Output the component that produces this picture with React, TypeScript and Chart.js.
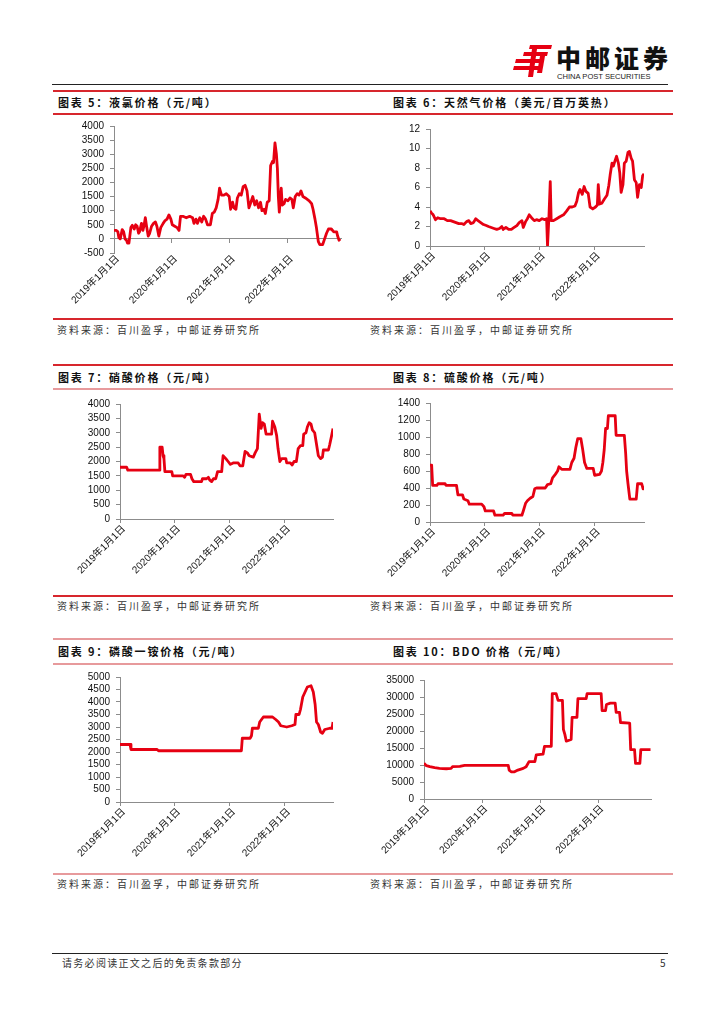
import React, { useEffect, useRef } from 'react';
import { Chart, registerables } from 'chart.js';

Chart.register(...registerables);

const RED = '#E60012';
const AXIS = '#8c8c8c';
const TICK_FONT = { family: "'Liberation Sans', 'Noto Sans CJK SC', sans-serif", size: 10 };

// x positions are months since 2019-01-01
const yearTicks = [0, 12, 24, 36];
const yearLabels = ['2019年1月1日', '2020年1月1日', '2021年1月1日', '2022年1月1日'];

// 图表5 液氯价格
const chlorMonths = [0, 0.5, 0.8, 1.0, 1.3, 1.7, 2.0, 2.3, 2.6, 2.8, 3.1, 3.5, 3.8, 4.2, 4.5, 4.8, 5.1, 5.3, 5.7, 6.0, 6.2, 6.5, 6.8, 7.1, 7.4, 7.8, 8.2, 8.6, 8.9, 9.3, 9.7, 10.2, 10.6, 11.0, 11.4, 11.8, 12.1, 12.6, 13.1, 13.5, 13.8, 14.3, 15.0, 15.7, 16.3, 16.6, 17.0, 17.3, 17.8, 18.2, 18.6, 19.0, 19.4, 20.0, 20.4, 20.8, 21.2, 21.6, 21.9, 22.3, 22.8, 23.3, 23.9, 24.2, 24.6, 24.9, 25.3, 25.6, 26.0, 26.4, 26.8, 27.2, 27.6, 28.0, 28.4, 28.8, 29.2, 29.6, 30.0, 30.4, 30.7, 31.1, 31.4, 31.8, 32.2, 32.5, 32.9, 33.1, 33.4, 33.7, 33.9, 34.1, 34.3, 34.7, 34.9, 35.3, 35.6, 36.1, 36.5, 36.9, 37.2, 37.6, 38.0, 38.4, 38.8, 39.2, 39.7, 40.1, 40.5, 41.0, 41.3, 41.7, 42.0, 42.4, 42.7, 43.3, 43.7, 44.1, 44.5, 45.1, 45.6, 46.2, 46.4, 46.7, 46.9];
const chlorPrices = [300, 300, 250, 50, 0, 330, 250, 0, -50, -150, -150, 400, 480, 350, 500, 450, 200, 250, 550, 300, 450, 750, 400, 100, 200, 450, 550, 600, 450, 100, 400, 550, 650, 700, 850, 700, 500, 450, 400, 300, 800, 800, 750, 800, 750, 550, 700, 550, 750, 600, 800, 700, 500, 500, 900, 950, 1100, 1400, 1800, 1550, 1550, 1600, 1500, 1050, 1300, 1100, 1050, 1450, 1600, 1550, 1850, 1900, 1700, 1100, 1300, 1500, 1200, 1350, 1100, 1300, 1000, 1050, 900, 1300, 1350, 2600, 2750, 2700, 3400, 3000, 2500, 1500, 950, 1800, 1200, 1250, 1400, 1350, 1450, 1400, 1100, 1500, 1600, 1550, 1700, 1500, 1450, 1400, 1350, 1250, 1050, 700, 400, -100, -200, -200, 0, 200, 350, 350, 250, 250, 100, -50, 0];

// 图表6 天然气价格
const gasMonths = [0, 0.3, 0.7, 1.2, 1.7, 2.3, 3.1, 3.8, 4.5, 5.1, 5.7, 6.3, 6.9, 7.4, 8.0, 8.5, 8.9, 9.5, 10.0, 10.5, 11.1, 11.7, 12.3, 12.8, 13.4, 14.0, 14.6, 15.2, 15.7, 16.0, 16.6, 17.2, 17.8, 18.4, 19.0, 19.5, 20.1, 20.4, 20.9, 21.3, 21.7, 22.2, 22.8, 23.3, 23.9, 24.5, 25.1, 25.5, 25.7, 26.0, 26.3, 26.5, 27.0, 27.7, 28.4, 29.2, 29.9, 30.5, 31.1, 31.7, 32.1, 32.5, 32.8, 33.3, 33.7, 34.1, 34.6, 35.0, 35.6, 36.2, 36.6, 36.8, 37.1, 37.6, 38.1, 38.7, 39.1, 39.4, 39.8, 40.1, 40.5, 40.8, 41.2, 41.5, 41.8, 42.2, 42.5, 42.9, 43.3, 43.6, 44.0, 44.3, 44.7, 45.1, 45.4, 45.8, 46.2, 46.5, 46.8];
const gasPrices = [3.6, 3.4, 3.2, 2.7, 2.9, 2.8, 2.8, 2.6, 2.6, 2.5, 2.4, 2.3, 2.3, 2.2, 2.5, 2.6, 2.3, 2.4, 2.8, 2.6, 2.4, 2.2, 2.1, 2.0, 1.9, 1.8, 1.7, 1.8, 2.0, 1.7, 1.9, 1.7, 1.7, 1.9, 2.1, 2.4, 2.6, 1.9, 2.5, 2.8, 3.2, 2.9, 2.6, 2.7, 2.6, 2.8, 2.7, 2.8, 0, 2.9, 6.6, 2.6, 2.6, 2.8, 3.0, 3.2, 3.6, 4.0, 4.0, 4.1, 4.6, 5.5, 5.8, 5.3, 6.1, 5.6, 5.4, 4.0, 3.8, 4.0, 4.2, 6.3, 4.3, 4.4, 4.8, 5.2, 6.2, 7.3, 8.5, 8.2, 8.8, 9.2, 8.5, 7.5, 5.5, 6.3, 8.5, 8.7, 9.6, 9.7, 9.0, 8.7, 6.8, 6.5, 5.0, 6.3, 6.0, 7.2, 7.4];

// 图表7 硝酸价格
const nitricMonths = [0, 1.45, 1.7, 8.6, 8.7, 9.2, 9.4, 9.6, 9.8, 11.3, 11.5, 13.8, 14.1, 14.4, 15.4, 15.7, 16.1, 17.8, 18.0, 18.9, 19.3, 19.6, 20.0, 20.4, 20.9, 21.3, 22.2, 22.5, 23.1, 23.6, 24.1, 24.7, 25.8, 26.2, 26.8, 27.3, 27.8, 28.2, 29.1, 29.5, 30.0, 30.4, 30.8, 31.1, 31.5, 31.9, 33.1, 33.3, 33.8, 34.2, 34.5, 34.9, 35.3, 36.2, 36.4, 37.2, 37.6, 38.0, 38.5, 38.9, 39.4, 39.9, 40.1, 40.6, 40.9, 41.3, 41.7, 42.0, 42.5, 42.9, 43.3, 43.8, 44.2, 44.4, 45.5, 45.8, 46.2, 46.5];
const nitricPrices = [1800, 1800, 1700, 1700, 2500, 2500, 2200, 2100, 1650, 1650, 1500, 1500, 1450, 1550, 1550, 1400, 1300, 1300, 1400, 1400, 1450, 1350, 1300, 1400, 1400, 1650, 1650, 2200, 2100, 2000, 1900, 1950, 1950, 1850, 1850, 2350, 2300, 2200, 2150, 2300, 2450, 3650, 3150, 3350, 3300, 2950, 2950, 3400, 3200, 2900, 2450, 2000, 2100, 2100, 1950, 1950, 1880, 2000, 2000, 2450, 2550, 2550, 2950, 3000, 3200, 3350, 3300, 3100, 3000, 2600, 2200, 2100, 2150, 2400, 2400, 2600, 2900, 3150];

// 图表8 硫酸价格
const sulfMonths = [0, 0.36, 0.58, 1.5, 1.75, 3.3, 3.5, 5.8, 6.1, 7.1, 7.4, 8.3, 8.6, 11.3, 11.8, 12.1, 13.9, 14.2, 16.0, 16.3, 17.9, 18.1, 20.1, 20.4, 20.9, 21.3, 21.9, 22.5, 22.9, 23.3, 25.2, 25.7, 26.4, 26.8, 27.4, 27.9, 28.2, 28.8, 30.6, 31.0, 31.5, 31.9, 32.3, 33.0, 33.4, 33.8, 34.3, 35.7, 36.0, 37.1, 37.5, 37.8, 38.1, 38.4, 38.8, 39.0, 40.5, 40.7, 42.5, 42.8, 43.0, 43.3, 43.7, 45.1, 45.4, 46.3, 46.6, 46.8];
const sulfPrices = [670, 670, 430, 430, 450, 450, 430, 430, 320, 320, 270, 250, 210, 210, 180, 130, 130, 80, 80, 100, 100, 80, 80, 130, 220, 250, 280, 300, 390, 400, 400, 440, 450, 520, 560, 600, 650, 620, 620, 700, 750, 880, 980, 980, 850, 700, 630, 630, 550, 560, 600, 700, 850, 1100, 1100, 1250, 1250, 1020, 1020, 800, 600, 450, 270, 270, 450, 450, 390, 420];

// 图表9 磷酸一铵价格
const mapMonths = [0, 2.2, 2.4, 8.1, 8.4, 26.5, 26.7, 28.4, 28.7, 28.9, 30.2, 30.5, 31.3, 33.3, 34.0, 34.6, 35.1, 36.4, 37.5, 38.2, 38.4, 39.1, 39.4, 39.9, 40.4, 40.9, 41.7, 42.2, 42.6, 42.9, 43.3, 43.8, 44.2, 44.7, 45.8, 46.3, 46.5];
const mapPrices = [2300, 2300, 2100, 2100, 2050, 2050, 2550, 2550, 2650, 2950, 2950, 3200, 3400, 3400, 3300, 3200, 3050, 3000, 3050, 3100, 3500, 3500, 3700, 4200, 4400, 4600, 4650, 4400, 3900, 3200, 3100, 2800, 2750, 2900, 2950, 2950, 3200];

// 图表10 BDO价格
const bdoMonths = [0, 0.5, 1.2, 2.2, 3.2, 4.6, 5.6, 5.9, 7.4, 8.4, 17.4, 17.6, 18.0, 18.7, 19.4, 20.5, 21.1, 21.7, 22.9, 23.2, 24.6, 24.9, 26.3, 26.5, 27.3, 27.7, 28.6, 28.8, 29.1, 29.4, 30.4, 30.6, 31.6, 31.8, 33.5, 33.7, 36.6, 36.8, 37.5, 37.7, 38.5, 39.5, 39.7, 40.4, 40.6, 42.5, 42.7, 43.5, 43.7, 44.6, 44.8, 46.8];
const bdoPrices = [10500, 9800, 9500, 9200, 9000, 8900, 9000, 9500, 9600, 9900, 9900, 8500, 8000, 8000, 8500, 9000, 9500, 11000, 11000, 13000, 13200, 15500, 15500, 31000, 31000, 29000, 29000, 20500, 19000, 17000, 17500, 24000, 24000, 29500, 29500, 31000, 31000, 26000, 26000, 27800, 28200, 28200, 25500, 25500, 22500, 22300, 14500, 14500, 10500, 10500, 14500, 14500];

type Box = { left: number; top: number; width: number; height: number };
type Area = { l: number; t: number; r: number; b: number };
type Spec = {
  months: number[];
  values: number[];
  yMin: number;
  yMax: number;
  yStep: number;
  xMax: number;
  zeroAxis?: boolean;
  box: Box;
  area: Area;
};

function setYearTicks(scale: any) {
  scale.ticks = yearTicks.map((v) => ({ value: v }));
}

function buildConfig(spec: Spec): any {
  const data = spec.months.map((m, i) => ({ x: m, y: spec.values[i] }));
  const yWidth = spec.area.l - spec.box.left;
  const xHeight = spec.box.top + spec.box.height - spec.area.b;
  const zeroPad = (s: any) => {
    s.paddingLeft = 0;
    s.paddingRight = 0;
    s.paddingTop = 0;
    s.paddingBottom = 0;
  };
  const scales: any = {
    x: {
      type: 'linear',
      position: 'bottom',
      min: 0,
      max: spec.xMax,
      afterBuildTicks: setYearTicks,
      afterFit: (s: any) => {
        s.height = xHeight;
        zeroPad(s);
      },
      border: { display: !spec.zeroAxis, color: AXIS, width: 1 },
      grid: {
        display: !spec.zeroAxis,
        drawOnChartArea: false,
        drawTicks: !spec.zeroAxis,
        tickLength: 4,
        color: AXIS,
      },
      ticks: {
        autoSkip: false,
        maxRotation: 45,
        minRotation: 45,
        padding: 0,
        labelOffset: 4,
        color: '#111',
        font: TICK_FONT,
        callback: (v: number) => yearLabels[yearTicks.indexOf(v)] ?? '',
      },
    },
    y: {
      type: 'linear',
      position: 'left',
      min: spec.yMin,
      max: spec.yMax,
      afterFit: (s: any) => {
        s.width = yWidth;
        zeroPad(s);
      },
      border: { display: true, color: AXIS, width: 1 },
      grid: { display: true, drawOnChartArea: false, drawTicks: true, tickLength: 4, color: AXIS },
      ticks: {
        stepSize: spec.yStep,
        autoSkip: false,
        maxTicksLimit: 100,
        padding: 6,
        color: '#111',
        font: TICK_FONT,
        callback: (v: number) => String(v),
      },
    },
  };
  if (spec.zeroAxis) {
    scales.x0 = {
      type: 'linear',
      position: { y: 0 },
      min: 0,
      max: spec.xMax,
      afterBuildTicks: setYearTicks,
      afterFit: zeroPad,
      border: { display: true, color: AXIS, width: 1 },
      grid: { display: true, drawOnChartArea: false, drawTicks: true, tickLength: 4, color: AXIS },
      ticks: { display: false },
    };
  }
  return {
    type: 'line',
    data: {
      datasets: [
        {
          data,
          xAxisID: 'x',
          yAxisID: 'y',
          borderColor: RED,
          borderWidth: 2.8,
          pointRadius: 0,
          tension: 0,
          fill: false,
          borderJoinStyle: 'round',
        },
      ],
    },
    options: {
      responsive: false,
      animation: false,
      events: [],
      layout: {
        padding: {
          left: 0,
          bottom: 0,
          top: spec.area.t - spec.box.top,
          right: spec.box.left + spec.box.width - spec.area.r,
        },
      },
      plugins: { legend: { display: false }, tooltip: { enabled: false }, title: { display: false } },
      scales,
    },
  };
}

function ChartBox({ spec }: { spec: Spec }) {
  const ref = useRef<HTMLCanvasElement | null>(null);
  useEffect(() => {
    if (!ref.current) return;
    const chart = new Chart(ref.current, buildConfig(spec));
    return () => chart.destroy();
  }, [spec]);
  return (
    <canvas
      ref={ref}
      width={spec.box.width}
      height={spec.box.height}
      style={{ position: 'absolute', left: spec.box.left, top: spec.box.top, width: spec.box.width, height: spec.box.height }}
    />
  );
}

const LEFT_BOX = { left: 52, width: 310 };
const RIGHT_BOX = { left: 366, width: 306 };

const specs: Spec[] = [
  {
    months: chlorMonths, values: chlorPrices, yMin: -500, yMax: 4000, yStep: 500, xMax: 47.1, zeroAxis: true,
    box: { ...LEFT_BOX, top: 115, height: 201 }, area: { l: 114, t: 126, r: 341, b: 253 },
  },
  {
    months: gasMonths, values: gasPrices, yMin: 0, yMax: 12, yStep: 2, xMax: 46.8,
    box: { ...RIGHT_BOX, top: 115, height: 201 }, area: { l: 430, t: 129, r: 644, b: 246 },
  },
  {
    months: nitricMonths, values: nitricPrices, yMin: 0, yMax: 4000, yStep: 500, xMax: 46.5,
    box: { ...LEFT_BOX, top: 390, height: 203 }, area: { l: 120, t: 404, r: 333, b: 519 },
  },
  {
    months: sulfMonths, values: sulfPrices, yMin: 0, yMax: 1400, yStep: 200, xMax: 46.8,
    box: { ...RIGHT_BOX, top: 390, height: 203 }, area: { l: 430, t: 403, r: 644, b: 522 },
  },
  {
    months: mapMonths, values: mapPrices, yMin: 0, yMax: 5000, yStep: 500, xMax: 46.5,
    box: { ...LEFT_BOX, top: 665, height: 206 }, area: { l: 120, t: 677, r: 333, b: 802 },
  },
  {
    months: bdoMonths, values: bdoPrices, yMin: 0, yMax: 35000, yStep: 5000, xMax: 46.9,
    box: { ...RIGHT_BOX, top: 665, height: 206 }, area: { l: 424, t: 680, r: 651, b: 799 },
  },
];

const titles = [
  '图表 5：液氯价格（元/吨）',
  '图表 6：天然气价格（美元/百万英热）',
  '图表 7：硝酸价格（元/吨）',
  '图表 8：硫酸价格（元/吨）',
  '图表 9：磷酸一铵价格（元/吨）',
  '图表 10：BDO 价格（元/吨）',
];
const sourceText = '资料来源：百川盈孚，中邮证券研究所';
const footerText = '请务必阅读正文之后的免责条款部分';
const pageNumber = '5';

const CJK = "'Noto Sans CJK SC', 'Liberation Sans', sans-serif";

function HLine({ y, x1, x2, color, h = 1 }: { y: number; x1: number; x2: number; color: string; h?: number }) {
  return <div style={{ position: 'absolute', left: x1, top: y, width: x2 - x1, height: h, background: color }} />;
}

function Text({ x, cy, text, size, bold, spacing, color }: { x: number; cy: number; text: string; size: number; bold?: boolean; spacing?: number; color?: string }) {
  const h = size + 6;
  return (
    <div
      style={{
        position: 'absolute',
        left: x,
        top: cy - h / 2,
        height: h,
        lineHeight: `${h}px`,
        fontFamily: CJK,
        fontSize: size,
        fontWeight: bold ? 700 : 400,
        letterSpacing: spacing ?? 0,
        color: color ?? '#111',
        whiteSpace: 'nowrap',
      }}
    >
      {text}
    </div>
  );
}

const rowTitleY = [102, 377, 651];
const rowTopLine = [90, 364, 638];
const rowTitleLine = [113, 388, 663];
const rowBottomLine = [318, 595, 873];
const rowSourceY = [330, 606, 884];

function Logo() {
  return (
    <div style={{ position: 'absolute', left: 512, top: 43, width: 160, height: 38 }}>
      <svg width={42} height={36} style={{ position: 'absolute', left: 0, top: 0 }}>
        <polygon points="18,2 40,2 39,6 17,6" fill="#E60012" />
        <polygon points="12,9 36,9 35,13 11,13" fill="#E60012" />
        <polygon points="4,16 30,16 29,20 3,20" fill="#E60012" />
        <polygon points="2,23 28,23 27,27 1,27" fill="#E60012" />
        <polygon points="20,6 25,6 21,34 16,34" fill="#E60012" />
        <polygon points="28,13 33,13 30,30 25,30" fill="#E60012" />
      </svg>
      <div style={{ position: 'absolute', left: 44, top: 0, fontFamily: CJK, fontWeight: 900, fontSize: 25, lineHeight: '28px', letterSpacing: 4, color: '#111', whiteSpace: 'nowrap' }}>
        中邮证券
      </div>
      <div style={{ position: 'absolute', left: 45, top: 29, fontFamily: "'Liberation Sans', sans-serif", fontSize: 7.6, lineHeight: '9px', color: '#222', whiteSpace: 'nowrap' }}>
        CHINA POST SECURITIES
      </div>
    </div>
  );
}

export default function App() {
  const strong = '#D7262D';
  const pale = '#E79A9C';
  const titleLineColors = [strong, pale, pale];
  const topLineColors = [strong, strong, pale];
  const bottomLineColors = [strong, strong, pale];
  return (
    <div style={{ position: 'absolute', left: 0, top: 0, width: 724, height: 1024, background: '#fff', overflow: 'hidden' }}>
      <Logo />
      <HLine y={84} x1={52} x2={668} color="#222" />
      {[0, 1, 2].map((r) => (
        <React.Fragment key={r}>
          <HLine y={rowTopLine[r]} x1={53} x2={673} color={topLineColors[r]} h={1.5} />
          <HLine y={rowTitleLine[r]} x1={53} x2={673} color={titleLineColors[r]} h={1.5} />
          <HLine y={rowBottomLine[r]} x1={53} x2={673} color={bottomLineColors[r]} h={1.5} />
          <Text x={58} cy={rowTitleY[r]} text={titles[r * 2]} size={11} bold spacing={1.8} />
          <Text x={393} cy={rowTitleY[r]} text={titles[r * 2 + 1]} size={11} bold spacing={1.8} />
          <Text x={57} cy={rowSourceY[r]} text={sourceText} size={10} spacing={2} color="#333" />
          <Text x={370} cy={rowSourceY[r]} text={sourceText} size={10} spacing={2} color="#333" />
        </React.Fragment>
      ))}
      {specs.map((s, i) => (
        <ChartBox key={i} spec={s} />
      ))}
      <HLine y={953} x1={52} x2={668} color="#222" />
      <Text x={62} cy={963} text={footerText} size={10} spacing={1.3} color="#333" />
      <Text x={660} cy={963} text={pageNumber} size={10} color="#333" />
    </div>
  );
}
